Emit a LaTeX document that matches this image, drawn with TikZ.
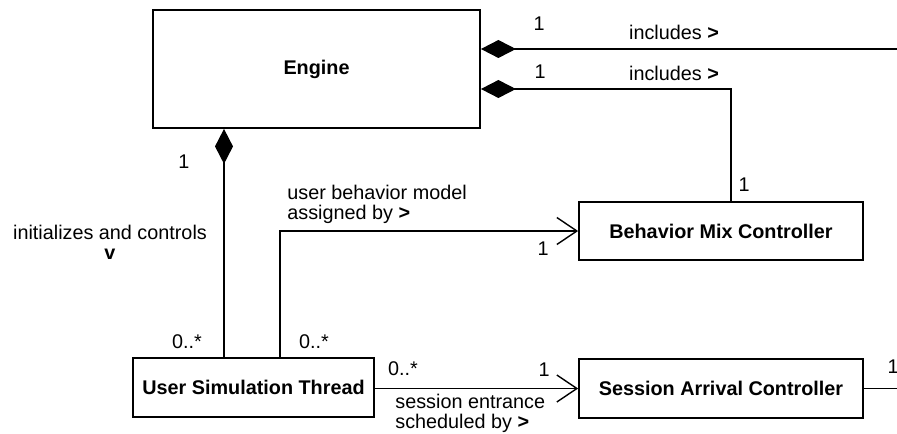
\documentclass[tikz,border=0pt]{standalone}
\usepackage{fontspec}
\setmainfont{Liberation Sans}
\usetikzlibrary{arrows.meta}
\begin{document}
\begin{tikzpicture}[x=0.5pt,y=-0.5pt,
  font=\fontsize{9.9}{10}\selectfont,
  cls/.style={draw,line width=0.9pt,font=\fontsize{9.9}{10}\selectfont\bfseries,inner sep=0pt},
  lbl/.style={inner sep=0pt},
  conn/.style={line width=0.7pt},
  comp/.style={conn,{Diamond[length=17.5pt,width=9pt,fill=black]}-},
  nav/.style={conn,-{Straight Barb[length=10pt,width=13.5pt,line width=0.7pt]}}]
\useasboundingbox (0,0) rectangle (897,433);
% classes
\node[cls,minimum width=163.5pt,minimum height=59pt] (Engine) at (316.5,69) {Engine};
\node[cls,minimum width=120.5pt,minimum height=29.5pt] (USim) at (253.5,387.5) {User Simulation Thread};
\node[cls,minimum width=142pt,minimum height=29pt] (BMC) at (721,231) {Behavior Mix Controller};
\node[cls,minimum width=142pt,minimum height=29.5pt] (SAC) at (721,388.5) {Session Arrival Controller};
% helper coordinates
\coordinate (r1) at (897,49);
\coordinate (bend) at (731,89);
\coordinate (c3) at (224,250);
\coordinate (c4) at (280,250);
\coordinate (r2) at (897,388.5);
% connectors
\draw[comp] (Engine.east |- r1) -- (r1);
\draw[comp] (Engine.east |- bend) -- (bend) -- (bend |- BMC.north);
\draw[comp] (Engine.south -| c3) -- (USim.north -| c3);
\draw[nav] (USim.north -| c4) |- (BMC.west);
\draw[nav] (USim.east |- SAC.west) -- (SAC.west);
\draw[conn] (SAC.east) -- (r2);
% labels
\node[lbl] (m1) at (539,24) {1};
\node[lbl] (t1) at (674,32) {includes \textbf{>}};
\node[lbl] (m2) at (540,72) {1};
\node[lbl] (t2) at (674,73) {includes \textbf{>}};
\node[lbl] (m3) at (744,185) {1};
\node[lbl] (m4) at (184,162) {1};
\node[lbl,align=center] (t3) at (110,242) {initializes and controls\\\textbf{v}};
\node[lbl] (m5) at (187,342) {0..*};
\node[lbl] (m6) at (314,342) {0..*};
\node[lbl,align=left,anchor=west] (t4) at (287,204) {user behavior model\\assigned by \textbf{>}};
\node[lbl] (m7) at (543,249) {1};
\node[lbl] (m8) at (403,369) {0..*};
\node[lbl] (m9) at (544,370) {1};
\node[lbl,align=left,anchor=west] (t5) at (395,413) {session entrance\\scheduled by \textbf{>}};
\node[lbl] (m10) at (893,367) {1};
\end{tikzpicture}
\end{document}
